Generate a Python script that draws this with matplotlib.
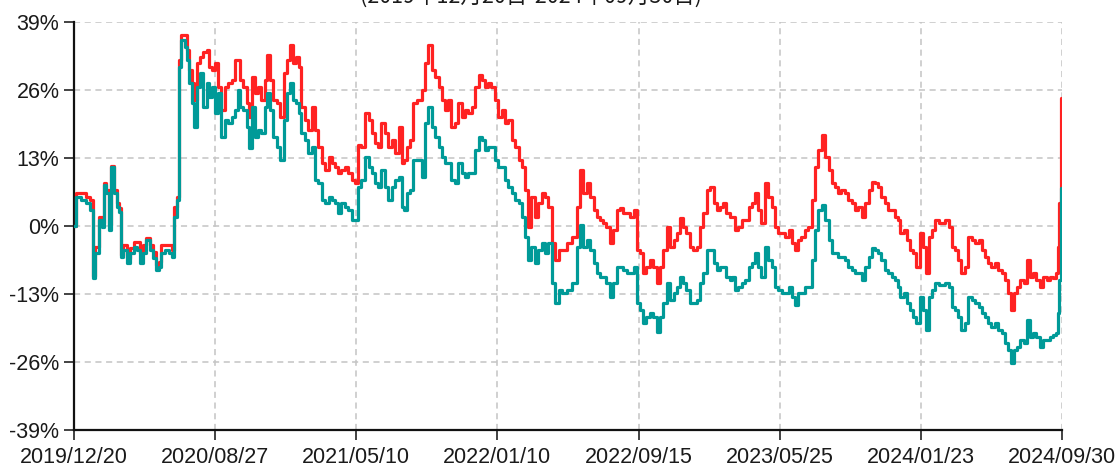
import matplotlib
matplotlib.use("Agg")
import matplotlib.pyplot as plt
from matplotlib.ticker import FixedLocator, FuncFormatter

# ---------------- data ----------------
title_text = "(2019年12月20日-2024年09月30日)"
x_tick_labels = ["2019/12/20", "2020/08/27", "2021/05/10", "2022/01/10",
                 "2022/09/15", "2023/05/25", "2024/01/23", "2024/09/30"]
total_days = 1160
y_ticks = [-39, -26, -13, 0, 13, 26, 39]

days = [0, 5, 11, 17, 21, 23, 27, 31, 34, 36, 40, 42, 45, 48, 52, 54, 56, 60, 64, 68,
        72, 75, 79, 83, 87, 91, 95, 98, 101, 104, 109, 113, 116, 119, 122, 124, 128, 132, 134, 136,
        140, 142, 146, 150, 154, 158, 160, 164, 168, 171, 175, 179, 183, 187, 191, 193, 197, 201, 205, 207,
        211, 215, 218, 222, 226, 228, 232, 236, 240, 244, 248, 252, 255, 259, 263, 265, 269, 273, 277, 281,
        285, 289, 293, 297, 301, 304, 308, 312, 316, 320, 324, 328, 332, 335, 340, 344, 348, 351, 355, 359,
        363, 367, 371, 375, 379, 383, 387, 389, 392, 396, 400, 406, 410, 414, 418, 422, 426, 430, 434, 438,
        441, 445, 449, 453, 457, 461, 465, 469, 473, 477, 481, 485, 488, 492, 496, 500, 504, 508, 512, 516,
        520, 524, 528, 532, 535, 539, 543, 547, 551, 555, 559, 563, 567, 571, 576, 582, 588, 592, 596, 600,
        604, 608, 612, 616, 620, 623, 627, 631, 635, 639, 643, 647, 651, 655, 659, 663, 667, 670, 674, 678,
        682, 686, 690, 694, 698, 702, 706, 710, 713, 717, 721, 725, 729, 733, 737, 741, 745, 749, 753, 757,
        760, 764, 768, 772, 774, 778, 782, 786, 790, 794, 798, 802, 805, 809, 813, 817, 821, 825, 829, 833,
        837, 841, 845, 847, 852, 856, 860, 864, 868, 872, 876, 880, 884, 888, 892, 896, 899, 903, 907, 911,
        915, 919, 923, 927, 931, 935, 938, 942, 946, 950, 954, 958, 962, 966, 968, 972, 976, 980, 984, 987,
        991, 995, 999, 1002, 1005, 1009, 1013, 1017, 1021, 1025, 1029, 1032, 1036, 1040, 1044, 1048, 1052, 1056, 1060, 1064,
        1068, 1072, 1075, 1079, 1083, 1087, 1091, 1095, 1099, 1102, 1105, 1109, 1113, 1117, 1121, 1125, 1128, 1132, 1136, 1140,
        1144, 1148, 1152, 1155, 1156, 1158, 1160]

fund = [0.0, 6.3, 6.3, 5.5, 5.0, -9.5, -4.0, 1.7, 0.6, 8.2, 6.9, 0.2, 11.5, 6.9, 4.4, 3.4, -5.5, -3.6, -6.1, -4.2,
        -3.1, -3.1, -5.2, -3.6, -2.3, -3.6, -5.0, -7.4, -6.9, -3.6, -3.6, -3.6, -4.6, 3.6, 5.5, 31.7, 36.5, 36.5, 33.6, 29.8,
        27.3, 24.1, 31.2, 32.3, 33.3, 33.6, 30.4, 29.8, 31.2, 26.6, 22.2, 26.6, 27.3, 27.9, 31.7, 31.7, 27.9, 26.6, 23.5, 20.8,
        28.5, 25.4, 26.6, 24.1, 27.9, 32.7, 27.9, 24.1, 23.5, 20.8, 29.2, 31.7, 34.6, 31.2, 32.3, 30.4, 22.8, 20.3, 18.4, 22.8,
        18.4, 15.1, 12.0, 10.7, 13.2, 12.0, 11.3, 10.1, 10.7, 11.3, 10.1, 8.8, 8.2, 15.5, 15.1, 21.6, 20.3, 17.8, 15.9, 15.1,
        19.7, 17.8, 15.1, 16.4, 14.0, 18.9, 12.0, 12.6, 15.1, 16.4, 23.5, 24.1, 26.0, 31.2, 34.6, 29.8, 28.5, 26.6, 24.1, 22.2,
        24.1, 18.9, 19.7, 23.5, 20.8, 22.2, 21.6, 22.8, 26.6, 28.9, 27.9, 26.6, 27.3, 26.6, 24.1, 20.8, 22.2, 19.7, 20.3, 16.4,
        15.1, 12.6, 11.3, 6.9, -0.2, 5.5, 1.7, 4.4, 6.3, 5.5, 3.6, -3.2, -6.5, -4.6, -4.6, -3.2, -2.1, 3.6, 10.7, 6.3,
        8.2, 5.5, 3.1, 1.7, 1.1, 0.6, -0.2, -3.2, -0.8, 3.1, 3.4, 2.5, 2.5, 1.7, 3.1, -4.6, -5.2, -9.0, -7.8, -6.5,
        -7.8, -10.9, -7.8, -4.6, -0.2, -4.0, -2.7, -1.3, 1.5, -0.2, -1.3, -4.0, -4.6, -4.0, -0.2, 2.5, 6.9, 7.5, 4.4, 3.1,
        3.6, 4.4, 2.5, 1.7, 1.7, -0.8, -0.2, 1.1, 1.1, 3.6, 4.4, 6.3, 3.1, 0.6, 8.2, 5.5, 3.6, -0.2, -1.3, -1.3,
        -2.1, -0.8, -3.2, -4.6, -2.7, -2.1, -0.8, -0.2, 5.0, 11.3, 14.5, 17.4, 13.2, 10.7, 8.2, 7.5, 6.3, 6.9, 6.3, 5.0,
        4.4, 3.1, 3.6, 1.7, 4.4, 6.9, 8.4, 8.2, 7.5, 5.5, 4.4, 3.1, 3.1, 1.7, 1.1, -1.3, -0.8, -2.7, -4.6, -5.2,
        -7.8, -1.3, -4.0, -9.0, -2.1, -0.8, 1.1, 0.6, 0.6, 1.1, -0.2, -4.0, -4.6, -6.5, -9.0, -7.8, -2.1, -2.7, -3.2, -2.7,
        -4.6, -5.9, -7.1, -7.8, -7.1, -8.4, -9.0, -10.3, -12.8, -16.1, -12.8, -11.7, -10.3, -10.9, -6.5, -9.8, -9.0, -10.3, -11.7, -9.8,
        -10.3, -9.8, -10.0, -9.0, -4.0, 4.4, 24.5]

benchmark = [0.0, 5.5, 5.0, 4.4, 3.1, -9.9, -5.2, 1.1, -0.2, 7.8, 6.3, -0.8, 11.3, 6.3, 3.6, 2.7, -5.9, -4.6, -7.1, -5.2,
             -4.0, -4.6, -7.1, -5.2, -2.7, -4.6, -6.1, -8.4, -7.8, -5.2, -4.6, -5.2, -5.9, 1.7, 5.0, 30.4, 35.6, 34.2, 31.7, 27.3,
             23.5, 18.9, 26.6, 29.2, 22.8, 27.3, 24.7, 26.6, 21.6, 25.4, 17.0, 20.3, 19.7, 20.8, 22.2, 26.0, 22.8, 22.2, 18.9, 14.9,
             22.8, 17.0, 18.4, 17.8, 22.8, 25.4, 22.2, 17.0, 15.1, 12.6, 20.3, 25.4, 27.3, 24.1, 23.5, 21.6, 17.8, 16.4, 14.0, 15.1,
             8.8, 8.2, 5.0, 4.4, 5.5, 5.0, 4.4, 2.5, 4.4, 3.6, 3.1, 1.1, 1.1, 7.5, 8.8, 13.2, 11.3, 10.1, 8.2, 7.5,
             10.7, 7.5, 5.0, 7.5, 8.8, 9.4, 3.6, 3.1, 6.3, 6.9, 12.6, 12.6, 9.4, 19.7, 22.8, 18.9, 17.0, 15.1, 13.2, 12.0,
             12.0, 8.8, 8.2, 12.0, 10.1, 9.4, 10.1, 10.1, 14.5, 17.0, 16.4, 14.5, 15.1, 15.1, 12.6, 11.3, 11.3, 8.8, 7.5, 6.3,
             5.0, 4.4, 1.7, -2.1, -6.5, -4.0, -7.1, -4.6, -3.2, -5.2, -3.2, -10.9, -14.7, -12.2, -12.8, -12.2, -10.9, -4.0, 0.2, -4.0,
             -2.7, -4.6, -7.1, -9.0, -9.8, -9.8, -10.9, -13.6, -10.9, -7.8, -7.8, -8.4, -9.0, -9.0, -7.8, -14.7, -16.1, -18.5, -17.4, -16.6,
             -17.4, -20.3, -17.4, -14.7, -10.9, -14.1, -12.8, -11.7, -9.8, -10.9, -12.2, -14.7, -14.7, -14.1, -10.9, -9.0, -4.6, -4.6, -7.1, -8.4,
             -7.8, -7.8, -9.8, -10.3, -9.8, -12.2, -11.7, -10.9, -10.3, -7.8, -7.1, -5.2, -7.8, -9.8, -4.0, -6.5, -7.8, -11.7, -12.2, -12.8,
             -12.8, -11.7, -13.6, -15.1, -12.8, -12.8, -11.7, -11.7, -6.5, -0.8, 3.1, 4.0, 1.1, -2.7, -5.2, -5.2, -5.9, -5.9, -6.5, -7.8,
             -8.4, -9.0, -9.0, -10.3, -7.8, -5.9, -4.2, -4.6, -5.2, -6.5, -8.4, -9.0, -9.8, -10.3, -11.7, -13.6, -12.8, -14.7, -16.1, -17.4,
             -18.5, -13.6, -16.1, -19.9, -13.6, -12.2, -10.9, -11.3, -11.3, -10.9, -11.7, -15.5, -16.1, -17.4, -19.9, -18.5, -13.6, -14.1, -14.7, -15.5,
             -16.6, -17.4, -18.5, -19.3, -18.5, -19.9, -20.5, -22.4, -23.7, -26.2, -23.7, -23.1, -21.8, -22.4, -18.0, -21.2, -20.5, -21.2, -23.1, -21.8,
             -21.8, -21.2, -20.9, -20.5, -16.6, -10.3, 7.3]

# ---------------- styling ----------------
RED = "#FF2222"
TEAL = "#009A98"
TXT = "#1a1a1a"

plt.rcParams['font.family'] = ['Liberation Sans', 'DejaVu Sans']

fig = plt.figure(figsize=(11.16, 4.66), dpi=100)
ax = fig.add_axes([74 / 1116, 36 / 466, 988 / 1116, 408 / 466])

ax.plot(days, fund, color=RED, lw=2.3, drawstyle='steps-mid', zorder=3)
ax.plot(days, benchmark, color=TEAL, lw=2.3, drawstyle='steps-mid', zorder=4)

ax.set_xlim(0, total_days)
ax.set_ylim(-39, 39)

xt = [total_days * k / (len(x_tick_labels) - 1) for k in range(len(x_tick_labels))]
ax.xaxis.set_major_locator(FixedLocator(xt))
ax.set_xticklabels(x_tick_labels)
ax.yaxis.set_major_locator(FixedLocator(y_ticks))
ax.yaxis.set_major_formatter(FuncFormatter(lambda v, p: f"{int(round(v))}%"))

ax.tick_params(axis='both', direction='out', length=7, width=1.2, colors='#222222',
               labelsize=15.5, labelcolor=TXT)
ax.tick_params(axis='y', pad=3.5)
ax.tick_params(axis='x', pad=5)

for s in ['top', 'right']:
    ax.spines[s].set_visible(False)
for s in ['left', 'bottom']:
    ax.spines[s].set_color('#111111')
    ax.spines[s].set_linewidth(1.6)

ax.grid(True, color='#c4c4c4', linestyle=(0, (4, 3)), linewidth=1.1, zorder=0)
ax.set_axisbelow(True)

fig.text(531 / 1116, 1 - 3 / 466, title_text, ha='center', va='baseline',
         fontsize=15.5, color=TXT, family=['Noto Sans CJK SC', 'DejaVu Sans'])

fig.savefig("out.png", dpi=100)
